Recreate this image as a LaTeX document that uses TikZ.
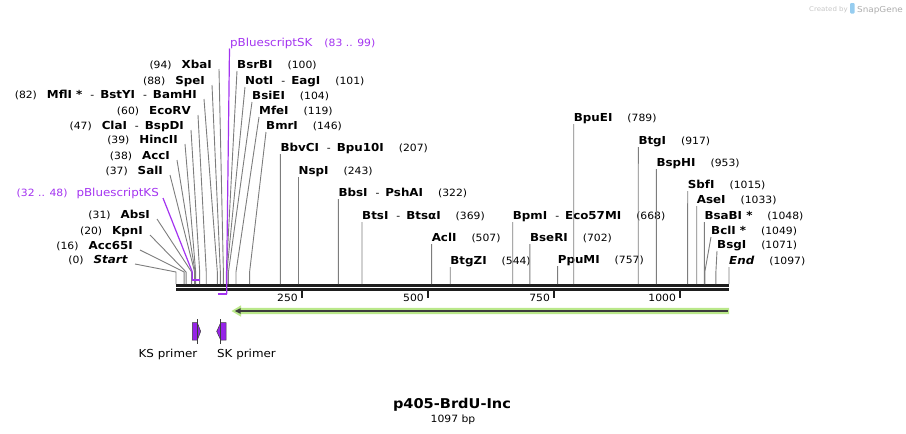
\documentclass[tikz,border=0pt]{standalone}
\usepackage{fontspec}
\setmainfont{DejaVu Sans}[FakeStretch=1.08]
\usepackage{xcolor}
\usepackage{tikz}
\definecolor{sgpurple}{RGB}{163, 51, 240}
\definecolor{sgprimer}{RGB}{150, 35, 232}
\definecolor{sggray}{RGB}{125, 125, 125}
\definecolor{sggreen}{RGB}{186, 232, 138}
\definecolor{sgdark}{RGB}{60, 60, 60}
\definecolor{sgblack}{RGB}{30, 30, 30}
\definecolor{sglogo}{RGB}{150, 205, 240}
\newcommand{\sgnum}[1]{{\fontsize{10}{12}\selectfont #1}}
\newcommand{\sgdash}{\hspace{8pt}{\fontsize{10}{12}\selectfont -}\hspace{6pt}}

\begin{document}
\begin{tikzpicture}[x=1pt, y=-1pt,
  site/.style={draw=sggray, line width=0.9pt},
  enz/.style={inner sep=0pt, font=\fontsize{11}{13}\selectfont},
  feat/.style={inner sep=0pt, text=sgpurple, font=\fontsize{11}{13}\selectfont},
  featline/.style={draw=sgpurple, line width=1.2pt},
  featbar/.style={draw=sgpurple, line width=2.4pt},
  backbone/.style={draw=sgblack, line width=2.6pt},
  tick/.style={draw=sgblack, line width=2pt},
  primer/.style={fill=sgprimer, draw=sgdark, line width=0.5pt}]
\useasboundingbox (0,0) rectangle (906,434);

% Backbone
\draw[backbone] (176,285.2) -- (729,285.2);
\draw[backbone] (176,289.5) -- (729,289.5);

% Ticks
\foreach \t in {250,500,750,1000} {
    \pgfmathsetmacro\tx{176+\t*0.5041}
    \draw[tick] (\tx,290) -- (\tx,297.5);
    \node[enz, font=\fontsize{10}{12}\selectfont, anchor=base east] (t\t) at (\tx-4,301) {\t};
}

% Sites, labels to the right
\foreach \p/\lx/\by/\nm in {
    100/237/68/{\textbf{BsrBI}},
    101/245/84/{\textbf{NotI}\sgdash\textbf{EagI}},
    104/252/99/{\textbf{BsiEI}},
    119/259/114/{\textbf{MfeI}},
    146/266/129/{\textbf{BmrI}},
    207/280.3/151/{\textbf{BbvCI}\sgdash\textbf{Bpu10I}},
    243/298.5/174/{\textbf{NspI}},
    322/338.3/196/{\textbf{BbsI}\sgdash\textbf{PshAI}},
    369/362/219/{\textbf{BtsI}\sgdash\textbf{BtsαI}},
    507/431.6/241/{\textbf{AclI}},
    544/450.2/264/{\textbf{BtgZI}},
    668/512.7/219/{\textbf{BpmI}\sgdash\textbf{Eco57MI}},
    702/529.9/241/{\textbf{BseRI}},
    757/557.6/263/{\textbf{PpuMI}},
    789/573.7/121/{\textbf{BpuEI}},
    917/638.3/144/{\textbf{BtgI}},
    953/656.4/166/{\textbf{BspHI}},
    1015/687.7/188/{\textbf{SbfI}},
    1033/696.7/203/{\textbf{AseI}},
    1048/704.3/219/{\textbf{BsaBI *}},
    1049/711/234/{\textbf{BclI *}},
    1071/717/248/{\textbf{BsgI}},
    1097/729/264/{\textbf{\textit{End}}}} {
    \pgfmathsetmacro\sx{176+\p*0.5041}
    \node[enz, anchor=base west] (r\p) at (\lx,\by) {\nm\hspace{15pt}\sgnum{(\p)}};
    \coordinate (k\p) at (\sx,272);
    \coordinate (a\p) at (\sx,284);
    \draw[site] ([yshift=-3pt]r\p.base west) -- (k\p) -- (a\p);
}

% Sites, labels to the left
\foreach \p/\rx/\by/\nm in {
    94/212/68/{\textbf{XbaI}},
    88/205/84/{\textbf{SpeI}},
    82/197/98/{\textbf{MflI *}\sgdash\textbf{BstYI}\sgdash\textbf{BamHI}},
    60/191/114/{\textbf{EcoRV}},
    47/184/129/{\textbf{ClaI}\sgdash\textbf{BspDI}},
    39/178/143/{\textbf{HincII}},
    38/170/159/{\textbf{AccI}},
    37/163/174/{\textbf{SalI}},
    31/150/218/{\textbf{AbsI}},
    20/143/234/{\textbf{KpnI}},
    16/133/249/{\textbf{Acc65I}},
    0/128/263/{\textbf{\textit{Start}}}} {
    \pgfmathsetmacro\sx{176+\p*0.5041}
    \node[enz, anchor=base east] (l\p) at (\rx,\by) {\sgnum{(\p)}\hspace{10pt}\nm};
    \coordinate (k\p) at (\sx,272);
    \coordinate (a\p) at (\sx,284);
    \draw[site] ([xshift=7pt,yshift=-1pt]l\p.base east) -- (k\p) -- (a\p);
}

% pBluescriptSK
\node[feat, anchor=base west] (skf) at (230,46) {pBluescriptSK\hspace{12pt}\sgnum{(83 .. 99)}};
\coordinate (skk) at (226.7,272);
\coordinate (skb) at (226.7,294);
\coordinate (ska) at (217.8,294);
\draw[featline] ([xshift=-0.5pt,yshift=-2.5pt]skf.base west) -- (skk) -- (skb);
\draw[featbar] (ska) -- (skb);

% pBluescriptKS
\node[feat, anchor=base east] (ksf) at (159,196) {\sgnum{(32 .. 48)}\hspace{9pt}pBluescriptKS};
\coordinate (ksk) at (192.3,272);
\coordinate (ksb) at (192.3,280);
\coordinate (kse) at (200.2,280);
\draw[featline] ([xshift=4pt,yshift=-2pt]ksf.base east) -- (ksk) -- (ksb);
\draw[featbar] ([xshift=-0.3pt]ksb) -- (kse);

% Feature arrow
\fill[sggreen] (729,307.8) -- (241,307.8) -- (241,305.3) -- (231.5,311) -- (241,316.7)
    -- (241,314.2) -- (729,314.2) -- cycle;
\draw[sgdark, line width=2pt] (727.5,311) -- (239,311);
\fill[sgdark] (235,311) -- (240.5,308.2) -- (240.5,313.8) -- cycle;

% Primers
\filldraw[primer] (192.3,322.7) -- (197.3,322.7) -- (200.7,331.4) -- (197.3,340) -- (192.3,340) -- cycle;
\draw[sgdark, line width=0.8pt] (197.3,319) -- (197.3,343.5);
\node[enz, anchor=base east] (ksp) at (197.5,357) {KS primer};
\filldraw[primer] (226,322.7) -- (220.7,322.7) -- (216.7,331.4) -- (220.7,340) -- (226,340) -- cycle;
\draw[sgdark, line width=0.8pt] (220.7,319) -- (220.7,343.5);
\node[enz, anchor=base west] (skp) at (217,357) {SK primer};

% Title
\node[inner sep=0pt, anchor=base, font=\bfseries\fontsize{13.5}{16}\selectfont] (title) at (452,408) {p405-BrdU-Inc};
\node[inner sep=0pt, anchor=base, font=\fontsize{10}{12}\selectfont] (len) at (453,422) {1097 bp};

% Watermark
\node[inner sep=0pt, anchor=base west, text=gray!45, font=\fontsize{6.5}{8}\selectfont] (made) at (809,11) {Created by};
\fill[sglogo, rounded corners=1pt] (850,3) rectangle (854.5,13.5);
\node[inner sep=0pt, anchor=base west, text=gray!65, font=\fontsize{8.2}{10}\selectfont] (sgname) at (857,12) {SnapGene};
\end{tikzpicture}
\end{document}
